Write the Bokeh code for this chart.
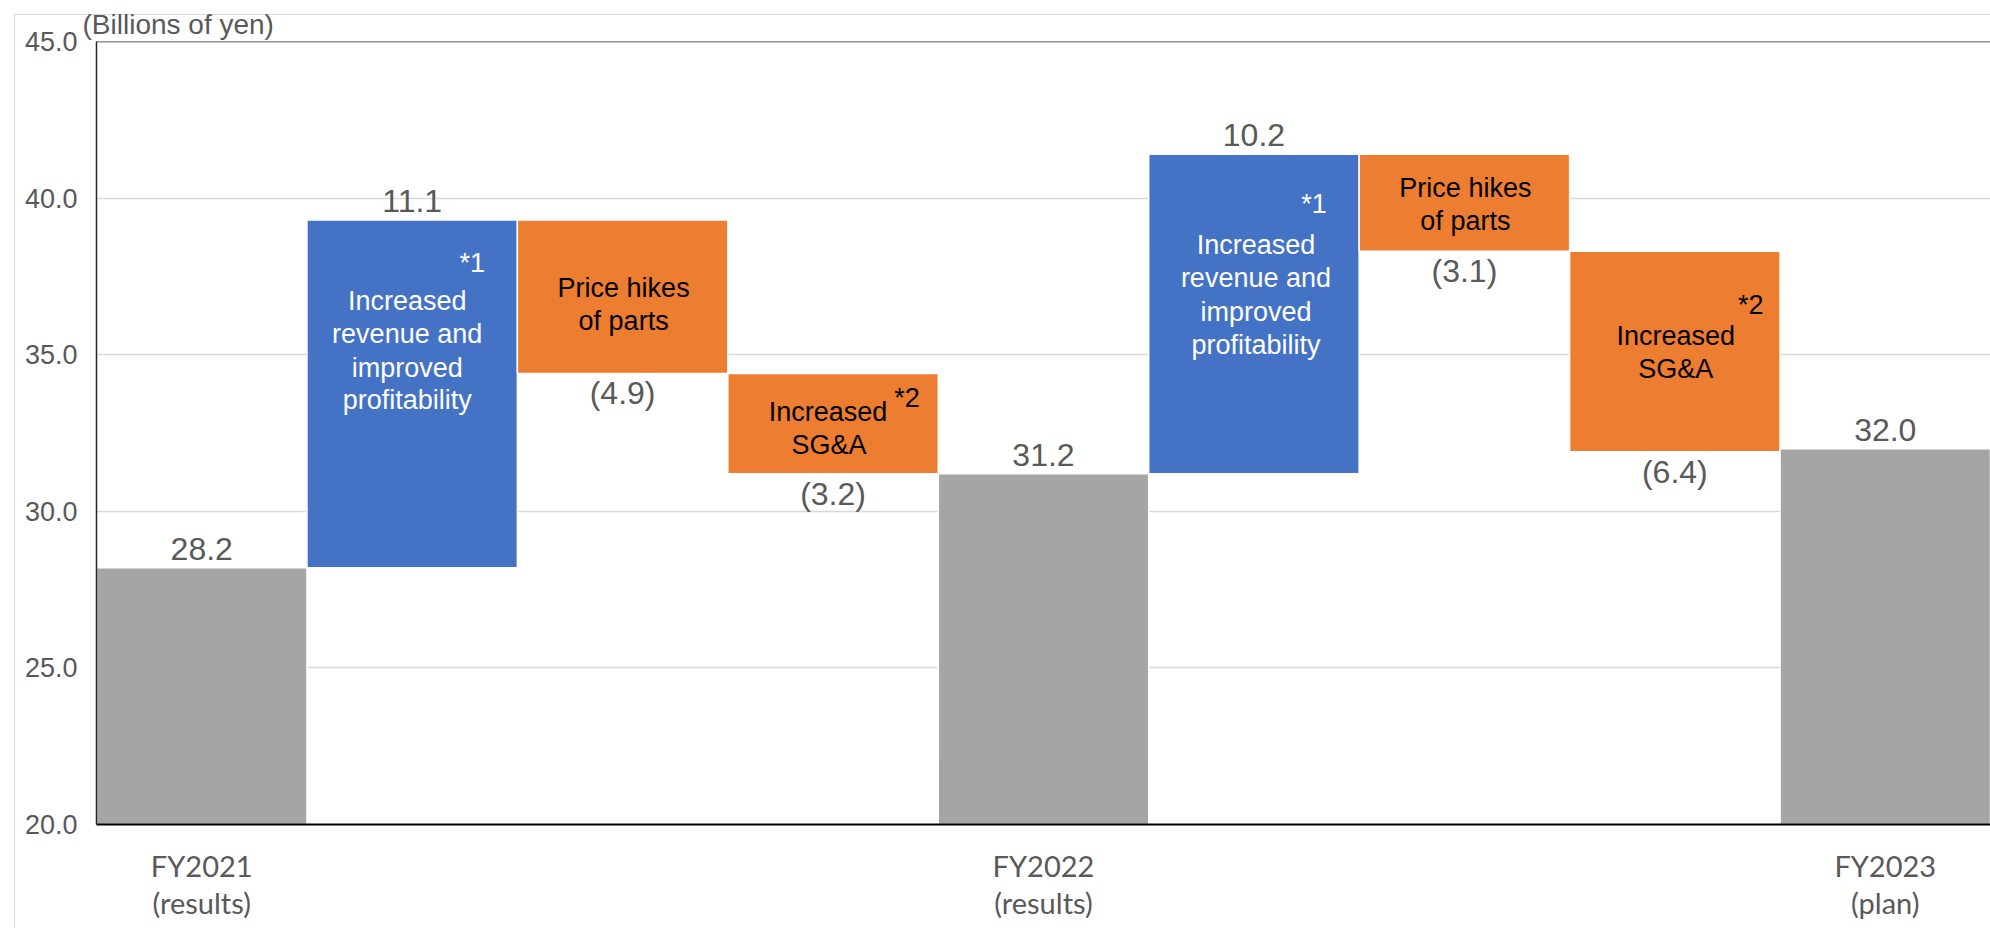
from bokeh.plotting import figure
from bokeh.models import (ColumnDataSource, Range1d, FixedTicker, NumeralTickFormatter,
                          Span, Title)
from bokeh.core.properties import value
from bokeh.embed import file_html
from bokeh.resources import INLINE

# ---------------- data ----------------
steps = ["FY2021 (results)", "Increased revenue and improved profitability",
         "Price hikes of parts", "Increased SG&A", "FY2022 (results)",
         "Increased revenue and improved profitability", "Price hikes of parts",
         "Increased SG&A", "FY2023 (plan)"]
step_values = [28.2, 11.1, -4.9, -3.2, 31.2, 10.2, -3.1, -6.4, 32.0]
step_kinds = ["total", "up", "down", "down", "total", "up", "down", "down", "total"]
category_ticks = {0: "FY2021\n(results)", 4: "FY2022\n(results)", 8: "FY2023\n(plan)"}
y_ticks = [20, 25, 30, 35, 40, 45]
unit_label = "(Billions of yen)"

# text inside the bars: bar index, text
inner_bar = [1, 1, 1, 1, 1, 2, 2, 3, 3, 3, 5, 5, 5, 5, 5, 6, 6, 7, 7, 7]
inner_text = ["*1", "Increased", "revenue and", "improved", "profitability",
              "Price hikes", "of parts",
              "*2", "Increased", "SG&A",
              "*1", "Increased", "revenue and", "improved", "profitability",
              "Price hikes", "of parts",
              "*2", "Increased", "SG&A"]
# placement of those texts (pixels, relative to bar centre / bar top)
inner_dx = [60, -5, -5, -5, -5, 1, 1, 74, -5, -4, 60, 2, 2, 2, 2, 1, 1, 76, 1, 1]
inner_dy = [43, 81, 114, 148, 180, 68, 101, 25, 39, 72,
            50, 91, 124, 158, 191, 34, 67, 54, 85, 118]

COLORS = {"total": "#a5a5a5", "up": "#4472c4", "down": "#ed7d31"}
TEXT_COL = {"up": "white", "down": "black"}
GRAY_TXT = "#595959"
W, H = 1990, 928

# ---------------- waterfall geometry ----------------
xs, tops, bottoms, fills, labels, lab_y, lab_off = [], [], [], [], [], [], []
running = 0.0
for i, (v, k) in enumerate(zip(step_values, step_kinds)):
    if k == "total":
        b, t = 0.0, v
        running = v
    elif k == "up":
        b, t = running, running + v
        running = t
    else:
        t, b = running, running + v
        running = b
    xs.append(i + 0.5)
    tops.append(t)
    bottoms.append(b)
    fills.append(COLORS[k])
    if k == "down":
        labels.append("(%.1f)" % abs(v))
        lab_y.append(b)
        lab_off.append(20)
    else:
        labels.append("%.1f" % v)
        lab_y.append(t)
        lab_off.append(-19)

bars = ColumnDataSource(dict(x=xs, top=tops, bottom=bottoms, fill=fills))
vlabels = ColumnDataSource(dict(x=xs, y=lab_y, text=labels, off=lab_off))
inner = ColumnDataSource(dict(
    x=[xs[b] for b in inner_bar],
    y=[tops[b] for b in inner_bar],
    text=inner_text,
    dx=inner_dx, dy=inner_dy,
    color=[TEXT_COL[step_kinds[b]] for b in inner_bar]))

# ---------------- figure ----------------
p = figure(width=W, height=H, output_backend="svg", toolbar_location=None,
           x_range=Range1d(0, 9), y_range=Range1d(20, 45),
           min_border_left=96, min_border_right=0, min_border_top=41,
           min_border_bottom=104)
# light gray chart-area border (its top and left sides are visible), drawn
# behind the transparent border area of the canvas
p.border_fill_color = None
p.styles = {
    "background-color": "white",
    "background-image": "linear-gradient(#d9d9d9, #d9d9d9), linear-gradient(#d9d9d9, #d9d9d9)",
    "background-size": "1px %dpx, %dpx 1px" % (H, W),
    "background-position": "14px 14px, 14px 14px",
    "background-repeat": "no-repeat",
}
p.outline_line_color = None
p.background_fill_color = "white"

p.title = Title(text=unit_label, align="left", offset=-14, standoff=3,
                text_font="Liberation Sans", text_font_size="28px",
                text_font_style="normal", text_color=GRAY_TXT)

p.vbar(x="x", top="top", bottom="bottom", width=1.0, fill_color="fill",
       line_color="white", line_width=1.5, source=bars)

p.text(x="x", y="y", text="text", y_offset="off", source=vlabels,
       text_align="center", text_baseline="middle",
       text_font=value("Liberation Sans"), text_font_size="32px",
       text_color=GRAY_TXT)

p.text(x="x", y="y", text="text", x_offset="dx", y_offset="dy", source=inner,
       text_align="center", text_baseline="middle",
       text_font=value("Liberation Sans"), text_font_size="27px",
       text_color="color")

# axes
yax = p.yaxis[0]
yax.ticker = FixedTicker(ticks=y_ticks)
yax.formatter = NumeralTickFormatter(format="0.0")
yax.major_label_text_font = "Liberation Sans"
yax.major_label_text_font_size = "27px"
yax.major_label_text_color = GRAY_TXT
yax.major_tick_line_color = None
yax.minor_tick_line_color = None
yax.axis_line_color = "#262626"
yax.axis_line_width = 1.5
yax.major_label_standoff = 13

xax = p.xaxis[0]
xax.ticker = FixedTicker(ticks=[k + 0.5 for k in category_ticks])
xax.major_label_overrides = {k + 0.5: t for k, t in category_ticks.items()}
xax.major_label_text_font = "Lato"
xax.major_label_text_font_size = "29px"
xax.major_label_text_color = GRAY_TXT
xax.major_label_text_line_height = 1.07
xax.major_tick_line_color = None
xax.minor_tick_line_color = None
xax.axis_line_color = "black"
xax.axis_line_width = 2
xax.major_label_standoff = 17

p.xgrid.grid_line_color = None
p.ygrid.ticker = FixedTicker(ticks=y_ticks)
p.ygrid.grid_line_color = "#d9d9d9"
p.ygrid.grid_line_width = 1.5

p.add_layout(Span(location=45, dimension="width", line_color="#262626", line_width=1.5))

open("out.html", "w").write(file_html(p, INLINE))
